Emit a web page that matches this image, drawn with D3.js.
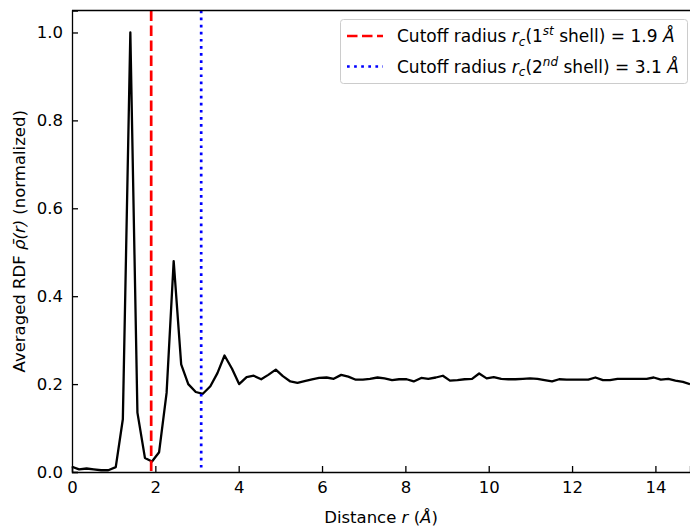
<!DOCTYPE html>
<html>
<head>
<meta charset="utf-8">
<script src="https://cdn.jsdelivr.net/npm/d3@7"></script>
<style>
body{margin:0;background:#fff;}
text{font-family:"DejaVu Sans",sans-serif;fill:#000;}
</style>
</head>
<body>
<div id="chart"></div>
<script>
var w=690;
var h=529;

// distances (angstrom) and averaged RDF values
var distance=[0,0.17,0.35,0.52,0.70,0.87,1.05,1.22,1.40,1.57,1.75,1.92,2.09,2.27,2.44,2.62,2.79,2.97,3.14,3.32,
  3.49,3.66,3.84,4.01,4.19,4.36,4.54,4.71,4.89,5.06,5.24,5.41,5.58,5.76,5.93,6.11,6.28,6.46,6.63,6.81,
  6.98,7.15,7.33,7.50,7.68,7.85,8.03,8.20,8.38,8.55,8.73,8.90,9.07,9.25,9.42,9.60,9.77,9.95,10.12,10.30,
  10.47,10.64,10.82,10.99,11.17,11.34,11.52,11.69,11.87,12.04,12.22,12.39,12.56,12.74,12.91,13.09,13.26,13.44,13.61,13.79,
  13.96,14.13,14.31,14.48,14.66,14.83];
var rdf=[0.012,0.006,0.008,0.006,0.004,0.004,0.011,0.12,1.0,0.135,0.032,0.024,0.045,0.18,0.48,0.245,0.2,0.182,0.178,0.195,
  0.225,0.265,0.235,0.2,0.216,0.219,0.211,0.221,0.233,0.218,0.206,0.203,0.207,0.211,0.214,0.215,0.212,0.221,0.217,0.21,
  0.21,0.212,0.215,0.213,0.209,0.211,0.211,0.206,0.214,0.212,0.215,0.219,0.208,0.209,0.211,0.212,0.224,0.213,0.216,0.212,
  0.211,0.211,0.212,0.213,0.212,0.209,0.206,0.211,0.21,0.21,0.21,0.21,0.215,0.209,0.209,0.212,0.212,0.212,0.212,0.212,
  0.215,0.21,0.212,0.208,0.205,0.2];
var cutoffs=[1.9,3.1];
var xTicks=[0,2,4,6,8,10,12,14];
var yTicks=[0,0.2,0.4,0.6,0.8,1.0];

var mLeft=72,mRight=690,mTop=10.5,mBottom=472;
var fs="16.5px";

var svg=d3.select("#chart").append("svg")
          .attr("width",w)
          .attr("height",h);

var x=d3.scaleLinear().domain([0,14.83]).range([mLeft,mRight]);
var y=d3.scaleLinear().domain([0,1.05]).range([mBottom,mTop]);

// rdf curve
var line=d3.line()
  .x(function(d,i){return x(distance[i]);})
  .y(function(d){return y(d);});

svg.append("path")
   .datum(rdf)
   .attr("d",line)
   .attr("fill","none")
   .attr("stroke","#000")
   .attr("stroke-width",2.3)
   .attr("stroke-linejoin","round");

// cutoff lines
svg.append("line")
   .attr("x1",x(cutoffs[0])).attr("x2",x(cutoffs[0]))
   .attr("y1",mTop).attr("y2",mBottom)
   .attr("stroke","#ff0000").attr("stroke-width",2.7)
   .attr("stroke-dasharray","10.5,4.5");
svg.append("line")
   .attr("x1",x(cutoffs[1])).attr("x2",x(cutoffs[1]))
   .attr("y1",mTop).attr("y2",mBottom)
   .attr("stroke","#0000ff").attr("stroke-width",2.7)
   .attr("stroke-dasharray","2.7,4.4");

// axes, ticks pointing in
var xAxis=svg.append("g")
  .attr("transform","translate(0,"+mBottom+")")
  .call(d3.axisBottom(x).tickValues(xTicks).tickSize(-6).tickPadding(9).tickFormat(d3.format("d")));
var yAxis=svg.append("g")
  .attr("transform","translate("+mLeft+",0)")
  .call(d3.axisLeft(y).tickValues(yTicks).tickSize(-6).tickPadding(9).tickFormat(d3.format(".1f")));

[xAxis,yAxis].forEach(function(g){
  g.select(".domain").attr("stroke","#000").attr("stroke-width",1.3);
  g.selectAll(".tick line").attr("stroke","#000").attr("stroke-width",1.3);
  g.selectAll(".tick text").style("font-size",fs).style("font-family","DejaVu Sans");
});

// top spine
svg.append("line")
   .attr("x1",mLeft).attr("x2",mRight)
   .attr("y1",mTop).attr("y2",mTop)
   .attr("stroke","#000").attr("stroke-width",1.3);

// axis labels
var xl=svg.append("text")
  .attr("x",(mLeft+mRight)/2).attr("y",523)
  .attr("text-anchor","middle")
  .style("font-size",fs);
xl.append("tspan").text("Distance ");
xl.append("tspan").style("font-style","italic").text("r");
xl.append("tspan").text(" (");
xl.append("tspan").style("font-style","italic").text("Å");
xl.append("tspan").text(")");

var yl=svg.append("text")
  .attr("transform","translate(25,"+((mTop+mBottom)/2)+") rotate(-90)")
  .attr("text-anchor","middle")
  .style("font-size",fs);
yl.append("tspan").text("Averaged RDF ");
yl.append("tspan").style("font-style","italic").text("ρ\u0304(r)");
yl.append("tspan").text(" (normalized)");

// legend
var leg=svg.append("g");
leg.append("rect")
   .attr("x",340.5).attr("y",19.5)
   .attr("width",347).attr("height",64)
   .attr("rx",3)
   .attr("fill","#fff").attr("fill-opacity",0.8)
   .attr("stroke","#cccccc");

var legItems=[
  {color:"#ff0000",dash:"10.5,4.5",ord:"1",sup:"st",val:"1.9"},
  {color:"#0000ff",dash:"2.7,4.4",ord:"2",sup:"nd",val:"3.1"}
];
legItems.forEach(function(d,i){
  var cy=36+i*30.5;
  leg.append("line")
     .attr("x1",347).attr("x2",383)
     .attr("y1",cy).attr("y2",cy)
     .attr("stroke",d.color).attr("stroke-width",2.7)
     .attr("stroke-dasharray",d.dash);
  var t=leg.append("text")
     .attr("x",397).attr("y",cy+6)
     .style("font-size","17px");
  t.append("tspan").text("Cutoff radius ");
  t.append("tspan").style("font-style","italic").text("r");
  t.append("tspan").style("font-style","italic").style("font-size","12px").attr("dy",3.5).text("c");
  t.append("tspan").attr("dy",-3.5).text("("+d.ord);
  t.append("tspan").style("font-style","italic").style("font-size","12px").attr("dy",-7).text(d.sup);
  t.append("tspan").attr("dy",7).text(" shell) = "+d.val+" ");
  t.append("tspan").style("font-style","italic").text("Å");
});
</script>
</body>
</html>
